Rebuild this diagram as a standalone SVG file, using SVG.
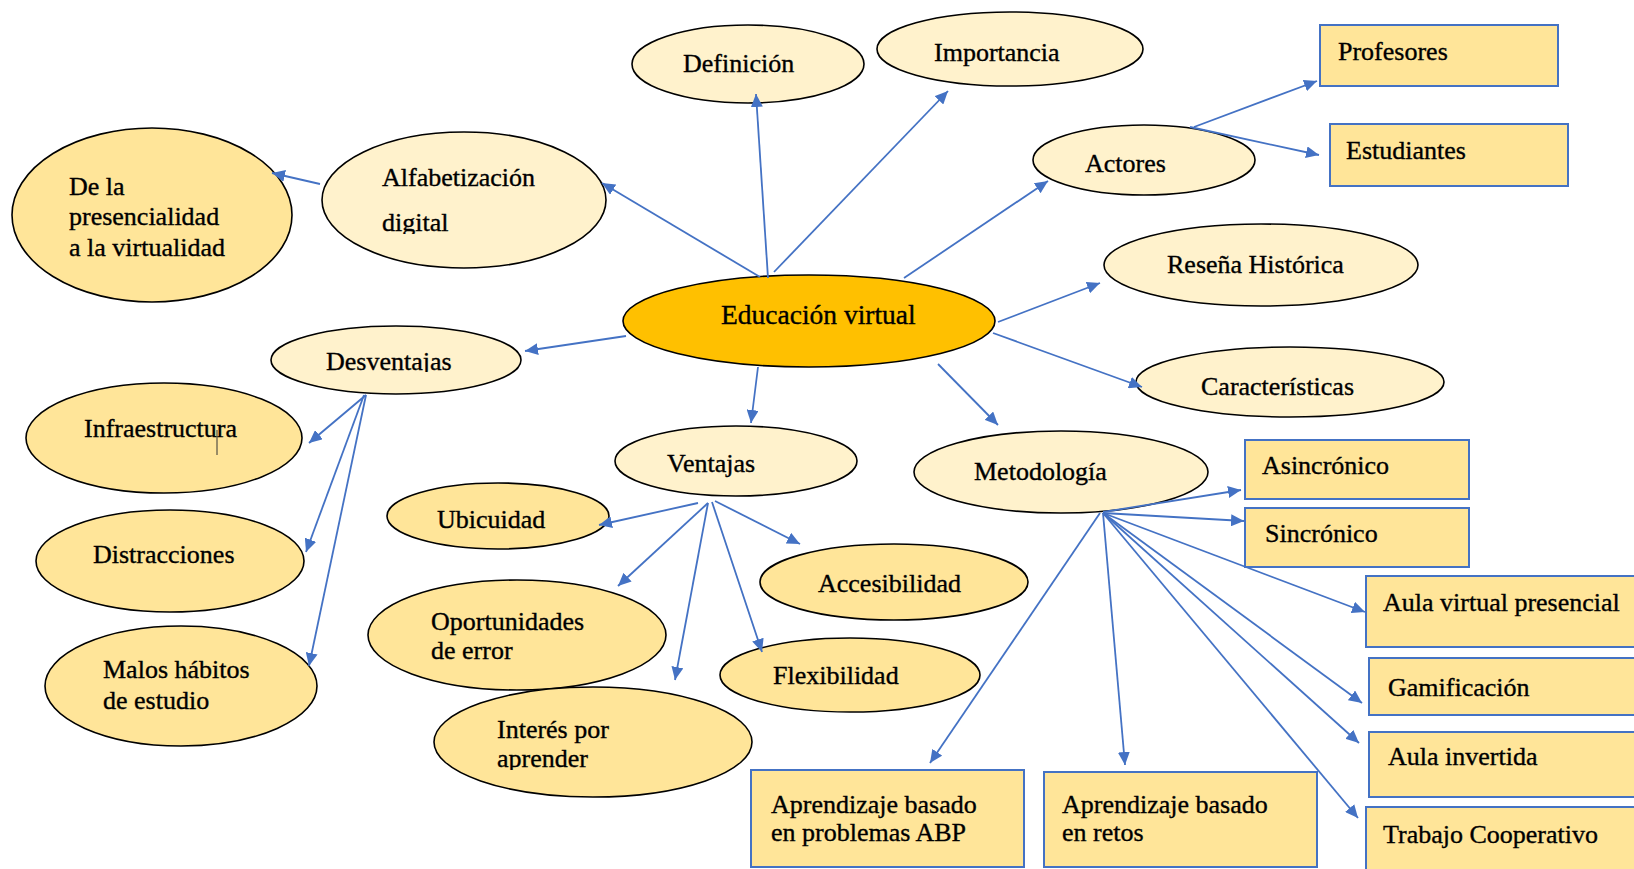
<svg xmlns="http://www.w3.org/2000/svg" width="1634" height="869" viewBox="0 0 1634 869">
<style>
  .t { font-family: "Liberation Serif", "DejaVu Serif", serif; font-size: 26px; fill: #000; stroke: #000; stroke-width: 0.35; }
  .big { font-size: 27.5px; }
  .e1 { fill: #FFF2CC; stroke: #000; stroke-width: 1.6; }
  .e2 { fill: #FFE599; stroke: #000; stroke-width: 1.6; }
  .e0 { fill: #FFC000; stroke: #000; stroke-width: 1.6; }
  .r { fill: #FFE599; stroke: #4472C4; stroke-width: 2; }
  .c line { stroke: #4472C4; stroke-width: 1.8; marker-end: url(#ah); }
</style>
<defs>
  <marker id="ah" markerUnits="userSpaceOnUse" markerWidth="14" markerHeight="12" refX="13" refY="6" orient="auto">
    <path d="M0,0 L13,6 L0,12 z" fill="#4472C4"/>
  </marker>
  <clipPath id="clipDes"><rect x="300" y="340" width="200" height="32"/></clipPath>
  <clipPath id="clipApr"><rect x="480" y="745" width="200" height="25"/></clipPath>
  <clipPath id="clipDig"><rect x="370" y="205" width="150" height="29"/></clipPath>
</defs>
<rect width="1634" height="869" fill="#fff"/>

<g id="n-educacion"><ellipse class="e0" cx="809" cy="321" rx="186" ry="46"/><text class="t big" x="721" y="324">Educación virtual</text></g>
<g id="n-definicion"><ellipse class="e1" cx="748" cy="64" rx="116" ry="39"/><text class="t" x="683" y="72">Definición</text></g>
<g id="n-importancia"><ellipse class="e1" cx="1010" cy="49" rx="133" ry="37"/><text class="t" x="934" y="61">Importancia</text></g>
<g id="n-profesores"><rect class="r" x="1320" y="25" width="238" height="61"/><text class="t" x="1338" y="60">Profesores</text></g>
<g id="n-estudiantes"><rect class="r" x="1330" y="124" width="238" height="62"/><text class="t" x="1346" y="159">Estudiantes</text></g>
<g id="n-actores"><ellipse class="e1" cx="1144" cy="160" rx="111" ry="35"/><text class="t" x="1085" y="172">Actores</text></g>
<g id="n-resena"><ellipse class="e1" cx="1261" cy="265" rx="157" ry="41"/><text class="t" x="1167" y="273">Reseña Histórica</text></g>
<g id="n-caracteristicas"><ellipse class="e1" cx="1290" cy="382" rx="154" ry="35"/><text class="t" x="1201" y="395">Características</text></g>
<g id="n-alfabetizacion"><ellipse class="e1" cx="464" cy="200" rx="142" ry="68"/><text class="t" x="382" y="186">Alfabetización</text><text class="t" x="382" y="231" clip-path="url(#clipDig)">digital</text></g>
<g id="n-presencialidad"><ellipse class="e2" cx="152" cy="215" rx="140" ry="87"/><text class="t" x="69" y="195">De la</text><text class="t" x="69" y="225">presencialidad</text><text class="t" x="69" y="256">a la virtualidad</text></g>
<g id="n-desventajas"><ellipse class="e1" cx="396" cy="360" rx="125" ry="34"/><text class="t" x="326" y="370" clip-path="url(#clipDes)">Desventajas</text></g>
<g id="n-infraestructura"><ellipse class="e2" cx="164" cy="438" rx="138" ry="55"/><text class="t" x="84" y="437">Infraestructura</text><line x1="217" y1="430" x2="217" y2="455" stroke="#333" stroke-width="1"/></g>
<g id="n-distracciones"><ellipse class="e2" cx="170" cy="561" rx="134" ry="51"/><text class="t" x="93" y="563">Distracciones</text></g>
<g id="n-malos"><ellipse class="e2" cx="181" cy="686" rx="136" ry="60"/><text class="t" x="103" y="678">Malos hábitos</text><text class="t" x="103" y="709">de estudio</text></g>
<g id="n-ventajas"><ellipse class="e1" cx="736" cy="461" rx="121" ry="35"/><text class="t" x="667" y="472">Ventajas</text></g>
<g id="n-ubicuidad"><ellipse class="e2" cx="498" cy="516" rx="111" ry="33"/><text class="t" x="437" y="528">Ubicuidad</text></g>
<g id="n-oportunidades"><ellipse class="e2" cx="517" cy="635" rx="149" ry="55"/><text class="t" x="431" y="630">Oportunidades</text><text class="t" x="431" y="659">de error</text></g>
<g id="n-interes"><ellipse class="e2" cx="593" cy="742" rx="159" ry="55"/><text class="t" x="497" y="738">Interés por</text><text class="t" x="497" y="767" clip-path="url(#clipApr)">aprender</text></g>
<g id="n-accesibilidad"><ellipse class="e2" cx="894" cy="582" rx="134" ry="38"/><text class="t" x="818" y="592">Accesibilidad</text></g>
<g id="n-flexibilidad"><ellipse class="e2" cx="850" cy="675" rx="130" ry="37"/><text class="t" x="773" y="684">Flexibilidad</text></g>
<g id="n-metodologia"><ellipse class="e1" cx="1061" cy="472" rx="147" ry="41"/><text class="t" x="974" y="480">Metodología</text></g>
<g id="n-asincronico"><rect class="r" x="1245" y="440" width="224" height="59"/><text class="t" x="1262" y="474">Asincrónico</text></g>
<g id="n-sincronico"><rect class="r" x="1245" y="508" width="224" height="59"/><text class="t" x="1265" y="542">Sincrónico</text></g>
<g id="n-aulavirtual"><rect class="r" x="1366" y="576" width="290" height="71"/><text class="t" x="1383" y="611">Aula virtual presencial</text></g>
<g id="n-gamificacion"><rect class="r" x="1369" y="658" width="290" height="57"/><text class="t" x="1388" y="696">Gamificación</text></g>
<g id="n-aulainvertida"><rect class="r" x="1369" y="732" width="290" height="65"/><text class="t" x="1388" y="765">Aula invertida</text></g>
<g id="n-trabajo"><rect class="r" x="1366" y="807" width="290" height="80"/><text class="t" x="1383" y="843">Trabajo Cooperativo</text></g>
<g id="n-abp"><rect class="r" x="751" y="770" width="273" height="97"/><text class="t" x="771" y="813">Aprendizaje basado</text><text class="t" x="771" y="841">en problemas ABP</text></g>
<g id="n-retos"><rect class="r" x="1044" y="772" width="273" height="95"/><text class="t" x="1062" y="813">Aprendizaje basado</text><text class="t" x="1062" y="841">en retos</text></g>

<g id="connectors" class="c">
  <line x1="768" y1="278" x2="756" y2="94"/>
  <line x1="774" y1="272" x2="948" y2="91"/>
  <line x1="760" y1="277" x2="602" y2="183"/>
  <line x1="320" y1="184" x2="272" y2="173"/>
  <line x1="904" y1="278" x2="1048" y2="181"/>
  <line x1="1194" y1="127" x2="1317" y2="81"/>
  <line x1="1190" y1="127" x2="1319" y2="155"/>
  <line x1="998" y1="322" x2="1100" y2="283"/>
  <line x1="993" y1="333" x2="1142" y2="387"/>
  <line x1="938" y1="364" x2="998" y2="425"/>
  <line x1="758" y1="367" x2="751" y2="423"/>
  <line x1="626" y1="336" x2="525" y2="351"/>
  <line x1="366" y1="395" x2="309" y2="443"/>
  <line x1="364" y1="395" x2="306" y2="552"/>
  <line x1="366" y1="395" x2="309" y2="666"/>
  <line x1="698" y1="503" x2="599" y2="525"/>
  <line x1="708" y1="503" x2="618" y2="586"/>
  <line x1="708" y1="503" x2="675" y2="680"/>
  <line x1="712" y1="502" x2="762" y2="652"/>
  <line x1="715" y1="501" x2="800" y2="544"/>
  <line x1="1103" y1="512" x2="1241" y2="490"/>
  <line x1="1103" y1="513" x2="1244" y2="521"/>
  <line x1="1103" y1="513" x2="1365" y2="612"/>
  <line x1="1103" y1="513" x2="1362" y2="703"/>
  <line x1="1103" y1="513" x2="1359" y2="743"/>
  <line x1="1103" y1="513" x2="1358" y2="818"/>
  <line x1="1100" y1="513" x2="930" y2="763"/>
  <line x1="1103" y1="513" x2="1125" y2="765"/>
</g>
</svg>
